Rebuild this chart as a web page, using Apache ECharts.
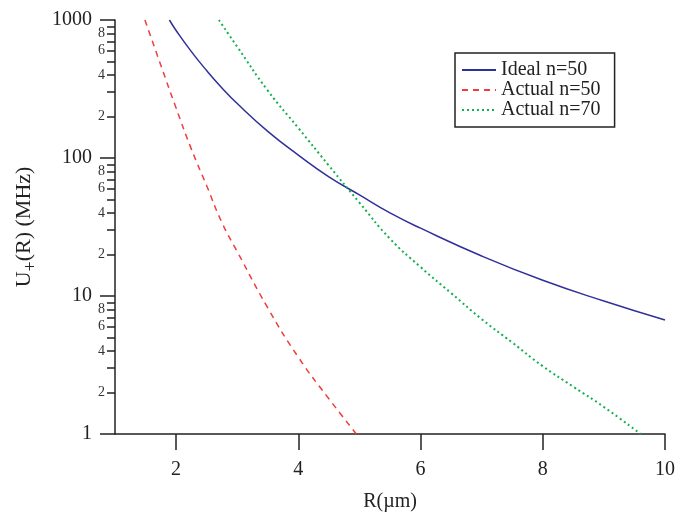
<!DOCTYPE html>
<html>
<head>
<meta charset="utf-8">
<script src="https://cdn.jsdelivr.net/npm/echarts@6/dist/echarts.min.js"></script>
<style>
    html, body { margin: 0; padding: 0; background: #fff; }
    #main { width: 679px; height: 517px; }
</style>
</head>
<body>
<div id="main"></div>
<script>
// 读图得到的数据
let idealR = [1.89, 2, 2.25, 2.5, 2.75, 3, 3.5, 4, 4.5, 5, 5.5, 6, 7, 8, 9, 10],
    idealU = [1000, 840, 590, 430, 322, 248, 156, 105, 73, 54, 40, 31, 19.5, 13, 9.2, 6.7];

let actual50R = [1.49, 1.75, 2, 2.25, 2.5, 2.75, 3, 3.5, 4, 4.5, 4.95],
    actual50U = [1000, 470, 230, 116, 63, 34, 21, 8.2, 3.6, 1.8, 1];

let actual70R = [2.7, 3, 3.5, 4, 4.5, 5, 5.5, 6, 6.5, 7, 7.5, 8, 8.5, 9, 9.6],
    actual70U = [1000, 640, 308, 165, 88, 47.5, 26, 16.2, 10.5, 6.8, 4.6, 3.1, 2.2, 1.57, 1];

let xTicks = [2, 4, 6, 8, 10];
let yMajorTicks = [1, 10, 100, 1000];
let yMinorTicks = [2, 3, 4, 5, 6, 7, 8, 9, 20, 30, 40, 50, 60, 70, 80, 90, 200, 300, 400, 500, 600, 700, 800, 900];
let yMinorLabels = [2, 4, 6, 8, 20, 40, 60, 80, 200, 400, 600, 800];

let fontName = 'Liberation Serif',
    axisColor = '#222';

function zip(xs, ys) {
    return xs.map(function (x, i) { return [x, ys[i]]; });
}

let myChart = echarts.init(document.getElementById('main'));

let option = {
    backgroundColor: '#fff',
    animation: false,
    textStyle: { fontFamily: fontName },
    grid: { left: 115, right: 14, top: 20, bottom: 77 },
    legend: {
        orient: 'vertical',
        left: 455,
        top: 53,
        padding: [7, 14, 7, 6],
        itemGap: 0,
        itemWidth: 34,
        itemHeight: 14,
        borderColor: '#222',
        borderWidth: 1.5,
        itemStyle: { opacity: 0 },
        textStyle: { fontFamily: fontName, fontSize: 20, color: '#222' },
        data: ['Ideal n=50', 'Actual n=50', 'Actual n=70']
    },
    xAxis: {
        type: 'value',
        min: 1,
        max: 10,
        name: 'R(\u00b5m)',
        nameLocation: 'middle',
        nameGap: 58,
        nameTextStyle: { fontFamily: fontName, fontSize: 20, color: '#222' },
        splitLine: { show: false },
        axisLine: { lineStyle: { color: axisColor, width: 1.5 } },
        axisTick: { customValues: xTicks, length: 16, lineStyle: { color: axisColor, width: 1.5 } },
        axisLabel: { customValues: xTicks, margin: 26, fontFamily: fontName, fontSize: 20, color: '#222' }
    },
    yAxis: [{
        type: 'log',
        logBase: 10,
        min: 1,
        max: 1000,
        name: '{a|U}{b|+}{a|(R) (MHz)}',
        nameLocation: 'middle',
        nameGap: 75,
        nameTextStyle: {
            rich: {
                a: { fontFamily: fontName, fontSize: 22, color: '#222' },
                b: { fontFamily: fontName, fontSize: 18, color: '#222', padding: [14, 0, 0, 0] }
            }
        },
        splitLine: { show: false },
        axisLine: { lineStyle: { color: axisColor, width: 1.5 } },
        axisTick: { customValues: yMajorTicks, length: 15, lineStyle: { color: axisColor, width: 1.5 } },
        axisLabel: {
            customValues: yMajorTicks,
            margin: 23,
            fontFamily: fontName,
            fontSize: 20,
            color: '#222',
            formatter: function (v) { return String(v); }
        }
    }, {
        // 次刻度
        type: 'log',
        logBase: 10,
        min: 1,
        max: 1000,
        position: 'left',
        splitLine: { show: false },
        axisLine: { show: false },
        axisTick: { customValues: yMinorTicks, length: 8, lineStyle: { color: axisColor, width: 1.5 } },
        axisLabel: {
            customValues: yMinorLabels,
            margin: 10,
            fontFamily: fontName,
            fontSize: 14,
            color: '#333',
            formatter: function (v) {
                return String(Math.round(v / Math.pow(10, Math.floor(Math.log10(v) + 1e-9))));
            }
        }
    }],
    series: [{
        name: 'Ideal n=50',
        type: 'line',
        smooth: true,
        symbol: 'none',
        yAxisIndex: 0,
        color: '#30309a',
        lineStyle: { width: 1.5, color: '#30309a' },
        data: zip(idealR, idealU)
    }, {
        name: 'Actual n=50',
        type: 'line',
        smooth: true,
        symbol: 'none',
        yAxisIndex: 0,
        color: '#f03c3c',
        lineStyle: { width: 1.5, color: '#f03c3c', type: [6, 5] },
        data: zip(actual50R, actual50U)
    }, {
        name: 'Actual n=70',
        type: 'line',
        smooth: true,
        symbol: 'none',
        yAxisIndex: 0,
        color: '#12b050',
        lineStyle: { width: 2, color: '#12b050', type: [2, 3] },
        data: zip(actual70R, actual70U)
    }]
};

myChart.setOption(option);
</script>
</body>
</html>
